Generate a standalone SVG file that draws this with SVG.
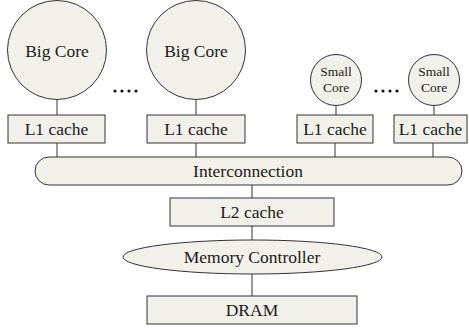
<svg xmlns="http://www.w3.org/2000/svg" width="469" height="329" viewBox="0 0 469 329">
<style>
.s{fill:#f1f1e9;stroke:#333;stroke-width:1}
text{font-family:'Liberation Serif',serif;fill:#1a1a1a;text-anchor:middle}
.t{font-size:17.5px}
.ts{font-size:13.5px}
.c{stroke:#555;stroke-width:1.2;fill:none}
.d{fill:#111}
</style>
<rect width="469" height="329" fill="#fff"/>
<g id="connectors">
<line class="c" x1="57" y1="99" x2="57" y2="115"/>
<line class="c" x1="196" y1="99" x2="196" y2="115"/>
<line class="c" x1="336" y1="105" x2="336" y2="115"/>
<line class="c" x1="434" y1="105" x2="434" y2="115"/>
<line class="c" x1="57" y1="143" x2="57" y2="157"/>
<line class="c" x1="196" y1="143" x2="196" y2="157"/>
<line class="c" x1="335" y1="143" x2="335" y2="157"/>
<line class="c" x1="433" y1="143" x2="433" y2="157"/>
<line class="c" x1="252" y1="185" x2="252" y2="198"/>
<line class="c" x1="252" y1="226" x2="252" y2="240"/>
<line class="c" x1="252" y1="274" x2="252" y2="296"/>
</g>
<g id="bigcore1"><circle class="s" cx="57" cy="50" r="49.5"/><text class="t" x="57" y="57">Big Core</text></g>
<g id="bigcore2"><circle class="s" cx="196" cy="50" r="49.5"/><text class="t" x="196" y="57">Big Core</text></g>
<g id="smallcore1"><circle class="s" cx="336" cy="80" r="25.5"/><text class="ts" x="336" y="76">Small</text><text class="ts" x="336" y="92">Core</text></g>
<g id="smallcore2"><circle class="s" cx="434" cy="80" r="25.5"/><text class="ts" x="434" y="76">Small</text><text class="ts" x="434" y="92">Core</text></g>
<g id="dots1"><circle class="d" cx="115" cy="91" r="1.6"/><circle class="d" cx="122" cy="91" r="1.6"/><circle class="d" cx="129" cy="91" r="1.6"/><circle class="d" cx="136" cy="91" r="1.6"/></g>
<g id="dots2"><circle class="d" cx="376" cy="91" r="1.6"/><circle class="d" cx="383" cy="91" r="1.6"/><circle class="d" cx="390" cy="91" r="1.6"/><circle class="d" cx="397" cy="91" r="1.6"/></g>
<g id="l1a"><rect class="s" x="8" y="115" width="97" height="28"/><text class="t" x="56.5" y="135">L1 cache</text></g>
<g id="l1b"><rect class="s" x="147" y="115" width="98" height="28"/><text class="t" x="196" y="135">L1 cache</text></g>
<g id="l1c"><rect class="s" x="297" y="115" width="76" height="28"/><text class="t" x="335" y="135">L1 cache</text></g>
<g id="l1d"><rect class="s" x="394" y="115" width="73" height="28"/><text class="t" x="430.5" y="135">L1 cache</text></g>
<g id="interconnection"><rect class="s" x="35" y="157" width="427" height="28" rx="14" ry="14"/><text class="t" x="248" y="177">Interconnection</text></g>
<g id="l2"><rect class="s" x="170" y="198" width="164" height="28"/><text class="t" x="252" y="218">L2 cache</text></g>
<g id="memctrl"><ellipse class="s" cx="252.5" cy="257" rx="129.5" ry="17"/><text class="t" x="252" y="263">Memory Controller</text></g>
<g id="dram"><rect class="s" x="147" y="296" width="210" height="28"/><text class="t" x="252" y="316">DRAM</text></g>
</svg>
